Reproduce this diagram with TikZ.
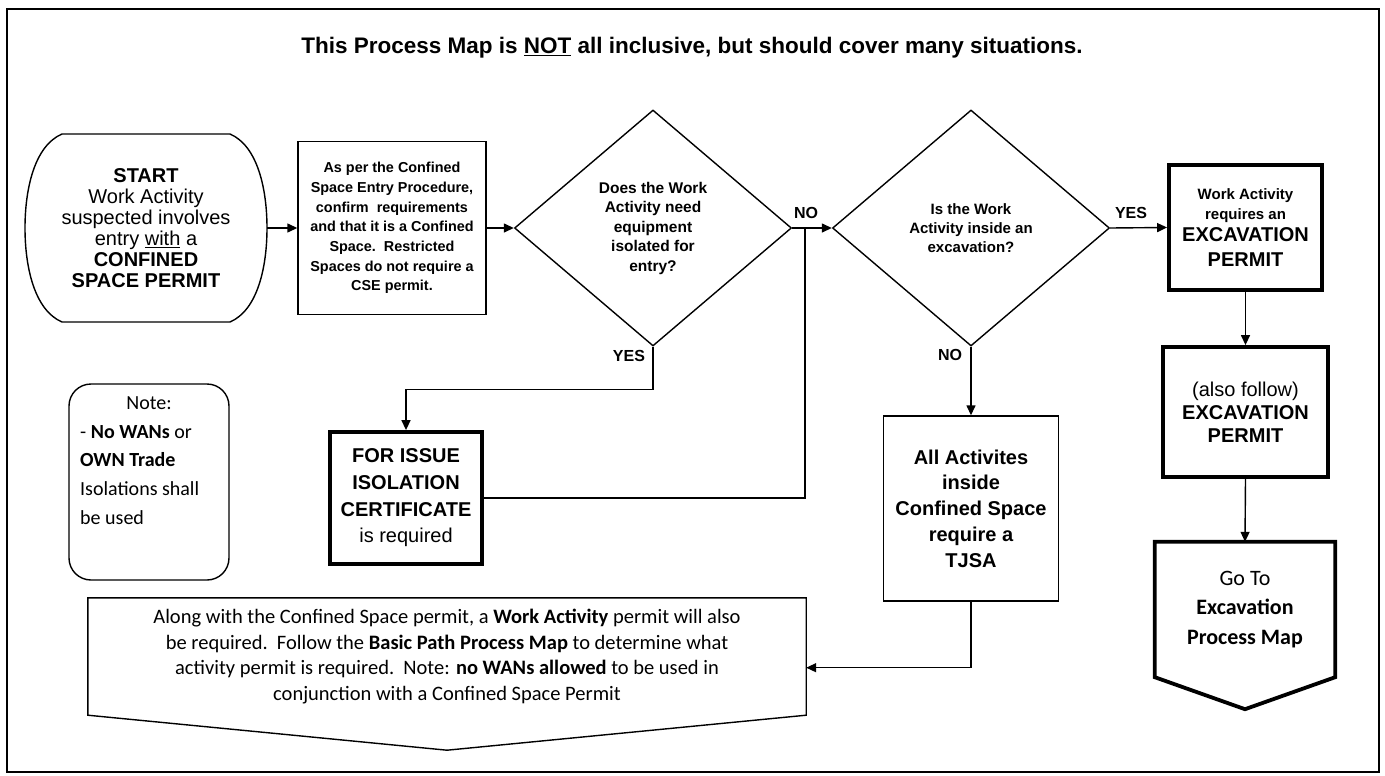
\documentclass[tikz,border=0pt]{standalone}
\usepackage{fontspec}
\setmainfont{Liberation Sans}
\newfontfamily\calib{Carlito}
\usetikzlibrary{arrows.meta,shapes.geometric,calc}
\newcommand{\fs}[2]{\fontsize{#1}{#2}\selectfont}

\begin{document}
\begin{tikzpicture}[x=1pt,y=-1pt,
  ln/.style={line width=1.4pt},
  heavybox/.style={draw, line width=3.8pt},
  flow/.style={line width=1.4pt, -{Triangle[length=10pt,width=9pt]}},
  lbl/.style={font=\bfseries\fs{16}{18}, inner sep=0pt},
  decision/.style={diamond, draw, ln, minimum width=277pt, minimum height=236pt,
    inner sep=0pt, align=center},
]
\useasboundingbox (0,0) rectangle (1385,776);
% outer frame
\draw[ln] (7,9) rectangle (1379,772);

% heading
\node[font=\bfseries\fs{22.5}{25}] (title) at (692,48)
  {This Process Map is \underline{NOT} all inclusive, but should cover many situations.};

% start terminator
\node[inner sep=0pt, minimum width=242pt, minimum height=188pt, align=center,
      font=\fs{20}{21}] (start) at (146,228)
  {\textbf{START}\\Work Activity\\suspected involves\\entry \underline{with} a\\
   \textbf{CONFINED}\\\textbf{SPACE PERMIT}};
\draw[ln] (62,134) -- (230,134) .. controls (258,146) and (267,190) .. (267,228)
  .. controls (267,266) and (258,310) .. (230,322) -- (62,322)
  .. controls (34,310) and (25,266) .. (25,228)
  .. controls (25,190) and (34,146) .. (62,134) -- cycle;

% procedure check
\node[draw, ln, minimum width=188pt, minimum height=173pt, align=center,
      font=\bfseries\fs{14.4}{19.7}] (b1) at (392,228)
  {As per the Confined\\Space Entry Procedure,\\confirm\ \ requirements\\
   and that it is a Confined\\Space.\ \ Restricted\\Spaces do not require a\\CSE permit.};

% decisions
\node[decision, font=\bfseries\fs{15.5}{19.5}] (d1) at (653,228)
  {Does the Work\\Activity need\\equipment\\isolated for\\entry?};
\node[decision, font=\bfseries\fs{15}{19}] (d2) at (971,228)
  {Is the Work\\Activity inside an\\excavation?};
\coordinate (jn) at (805,228);

% isolation certificate
\node[heavybox, minimum width=152pt, minimum height=132pt, align=center,
      font=\fs{20}{26.7}] (iso) at (406,498)
  {\textbf{FOR ISSUE}\\\textbf{ISOLATION}\\\textbf{CERTIFICATE}\\is required};

% note
\node[draw, ln, rounded corners=22pt, minimum width=160pt, minimum height=196pt] (nt) at (149,482) {};
\node[anchor=north, inner sep=0pt, font=\calib\fs{20}{28.7}] (nth) at (149,396) {Note:};
\node[anchor=north west, inner sep=0pt, align=left, font=\calib\fs{20}{28.7}] (ntb) at (80,425)
  {- \textbf{No WANs} or\\\textbf{OWN Trade}\\Isolations shall\\be used};

% TJSA
\node[draw, ln, minimum width=175pt, minimum height=185pt, align=center,
      font=\bfseries\fs{20}{25.7}] (tj) at (971,508.5)
  {All Activites\\inside\\Confined Space\\require a\\TJSA};

% excavation column
\node[heavybox, minimum width=153pt, minimum height=125pt, align=center,
      font=\bfseries\fs{20}{25}] (e1) at (1245.5,227.5)
  {{\fs{15}{20}Work Activity}\\[-5pt]{\fs{15}{20}requires an}\\[-3pt]EXCAVATION\\PERMIT};
\node[heavybox, minimum width=165pt, minimum height=130pt, align=center,
      font=\fs{20}{23}] (e2) at (1245.5,412)
  {(also follow)\\\textbf{EXCAVATION}\\\textbf{PERMIT}};
\node[inner sep=0pt, minimum width=180pt, minimum height=135pt, align=center,
      font=\calib\fs{22}{29.5}] (pent) at (1245,609.5)
  {Go To\\\textbf{Excavation}\\\textbf{Process Map}};
\draw[line width=3.8pt, line join=miter] (pent.north west) -- (pent.north east)
  -- (pent.south east) -- ($(pent.south)+(0,32)$) -- (pent.south west) -- cycle;

% work activity permit callout
\node[inner sep=0pt, minimum width=718pt, minimum height=117pt, align=center,
      font=\calib\fs{20.5}{25.5}] (co) at (447,656.5)
  {Along with the Confined Space permit, a \textbf{Work Activity} permit will also\\
   be required.\ \ Follow the \textbf{Basic Path Process Map} to determine what\\
   activity permit is required.\ \ Note: \textbf{no WANs allowed} to be used in\\
   conjunction with a Confined Space Permit};
\draw[ln] (co.south west) -- (co.north west) -- (co.north east) -- (co.south east)
  -- ($(co.south)+(0,35)$) -- cycle;

% connectors
\draw[flow] (start.east) -- (b1.west);
\draw[flow] (b1.east) -- (d1.west);
\draw[flow] (d1.east) -- (d2.west);
\node[lbl] (no1) at (806,213) {NO};
\draw[flow] (d1.south) -- ++(0,43) -| (iso.north);
\node[lbl] (yes1) at (629,356) {YES};
\draw[ln] (iso.east) -| (jn);
\draw[flow] (d2.east) -- (e1.west);
\node[lbl] (yes2) at (1131,213) {YES};
\draw[flow] (d2.south) -- (tj.north);
\node[lbl] (no2) at (950,355) {NO};
\draw[flow] (e1.south) -- (e2.north);
\draw[flow] (e2.south) -- (pent.north);
\path (tj.south) ++(0,66) coordinate (tjb);
\draw[flow] (tj.south) -- (tjb) -- (co.east |- tjb);
\end{tikzpicture}
\end{document}
